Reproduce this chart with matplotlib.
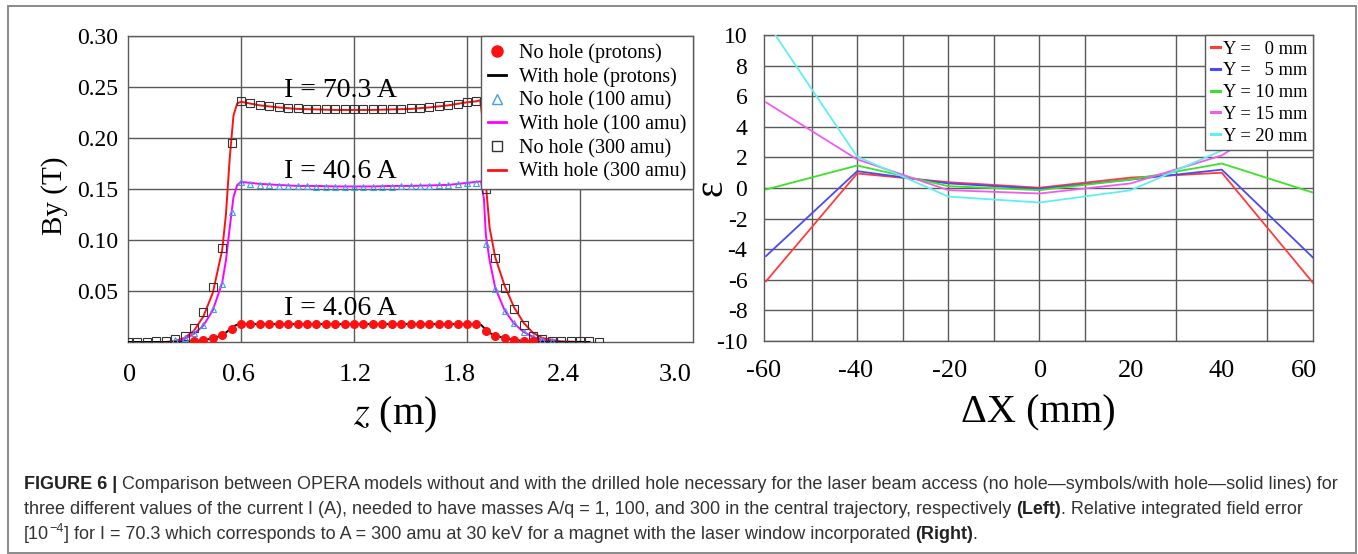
import numpy as np
import matplotlib
matplotlib.use("Agg")
import matplotlib.pyplot as plt
from matplotlib.lines import Line2D
from matplotlib.patches import Rectangle
from matplotlib import font_manager

# ---------------- data: left panel (By vs z) ----------------
# markers: no hole (protons), I = 4.06 A
z_p_mark = [0.35, 0.40, 0.45, 0.50, 0.55, 0.60, 0.65, 0.70, 0.75, 0.80, 0.85, 0.90,
            0.95, 1.00, 1.05, 1.10, 1.15, 1.20, 1.25, 1.30, 1.35, 1.40, 1.45, 1.50,
            1.55, 1.60, 1.65, 1.70, 1.75, 1.80, 1.85, 1.90, 1.95, 2.00, 2.05, 2.10, 2.15]
by_p_mark = [0.001, 0.002, 0.004, 0.007, 0.013, 0.0175, 0.0175, 0.0175, 0.0175, 0.0175,
             0.0175, 0.0175, 0.0175, 0.0175, 0.0175, 0.0175, 0.0175, 0.0175, 0.0175,
             0.0175, 0.0175, 0.0175, 0.0175, 0.0175, 0.0175, 0.0175, 0.0175, 0.0175,
             0.0175, 0.0175, 0.0175, 0.011, 0.006, 0.004, 0.002, 0.001, 0.0005]
# line: with hole (protons)
z_p_line = [0.00, 0.30, 0.35, 0.40, 0.45, 0.50, 0.525, 0.55, 0.575, 0.60, 1.85, 1.875,
            1.90, 1.925, 1.95, 2.00, 2.05, 2.10, 2.20, 2.30, 2.45]
by_p_line = [0.0, 0.0, 0.0008, 0.0018, 0.0035, 0.0065, 0.0100, 0.0140, 0.0167, 0.0175,
             0.0175, 0.0168, 0.0120, 0.0085, 0.0062, 0.0037, 0.0020, 0.0010, 0.0003, 0.0, 0.0]

# markers: no hole (100 amu), I = 40.6 A
z_100_mark = [0.25, 0.30, 0.35, 0.40, 0.45, 0.50, 0.55, 0.60, 0.65, 0.70, 0.75, 0.80,
              0.85, 0.90, 0.95, 1.00, 1.05, 1.10, 1.15, 1.20, 1.25, 1.30, 1.35, 1.40,
              1.45, 1.50, 1.55, 1.60, 1.65, 1.70, 1.75, 1.80, 1.85, 1.90, 1.95, 2.00,
              2.05, 2.10, 2.15, 2.20, 2.25]
by_100_mark = [0.002, 0.004, 0.009, 0.017, 0.032, 0.057, 0.127, 0.157, 0.155, 0.154,
               0.154, 0.153, 0.153, 0.153, 0.153, 0.152, 0.152, 0.152, 0.152, 0.152,
               0.152, 0.152, 0.152, 0.152, 0.153, 0.153, 0.153, 0.153, 0.154, 0.154,
               0.155, 0.156, 0.156, 0.096, 0.052, 0.030, 0.019, 0.010, 0.005, 0.002, 0.001]
# line: with hole (100 amu)
z_100_line = [0.00, 0.25, 0.30, 0.35, 0.40, 0.45, 0.50, 0.52, 0.54, 0.56, 0.58, 0.60,
              0.70, 0.80, 0.90, 1.00, 1.10, 1.20, 1.30, 1.40, 1.50, 1.60, 1.70, 1.80,
              1.85, 1.875, 1.89, 1.90, 1.92, 1.95, 2.00, 2.05, 2.10, 2.15, 2.20, 2.30, 2.40]
by_100_line = [0.0, 0.0, 0.003, 0.008, 0.016, 0.031, 0.058, 0.080, 0.112, 0.142, 0.154,
               0.157, 0.155, 0.154, 0.153, 0.153, 0.1525, 0.1525, 0.1525, 0.153, 0.153,
               0.1535, 0.154, 0.156, 0.157, 0.1575, 0.140, 0.105, 0.080, 0.053, 0.031,
               0.018, 0.010, 0.005, 0.002, 0.0003, 0.0]

# markers: no hole (300 amu), I = 70.3 A
z_300_mark = [0.00, 0.05, 0.10, 0.15, 0.20, 0.25, 0.30, 0.35, 0.40, 0.45, 0.50, 0.55,
              0.60, 0.65, 0.70, 0.75, 0.80, 0.85, 0.90, 0.95, 1.00, 1.05, 1.10, 1.15,
              1.20, 1.25, 1.30, 1.35, 1.40, 1.45, 1.50, 1.55, 1.60, 1.65, 1.70, 1.75,
              1.80, 1.85, 1.90, 1.95, 2.00, 2.05, 2.10, 2.15, 2.20, 2.25, 2.30, 2.35,
              2.40, 2.45, 2.50]
by_300_mark = [0.000, 0.000, 0.000, 0.001, 0.001, 0.003, 0.006, 0.014, 0.029, 0.054,
               0.092, 0.195, 0.236, 0.234, 0.232, 0.231, 0.230, 0.229, 0.229, 0.228,
               0.228, 0.228, 0.228, 0.228, 0.228, 0.228, 0.228, 0.228, 0.228, 0.228,
               0.229, 0.229, 0.230, 0.231, 0.232, 0.233, 0.235, 0.236, 0.150, 0.082,
               0.053, 0.032, 0.017, 0.006, 0.003, 0.001, 0.001, 0.001, 0.001, 0.001, 0.000]
# line: with hole (300 amu)
z_300_line = [0.00, 0.20, 0.25, 0.30, 0.35, 0.40, 0.45, 0.50, 0.52, 0.54, 0.56, 0.58,
              0.60, 0.70, 0.80, 0.90, 1.00, 1.10, 1.20, 1.30, 1.40, 1.50, 1.60, 1.70,
              1.80, 1.85, 1.87, 1.885, 1.90, 1.92, 1.95, 2.00, 2.05, 2.10, 2.15, 2.20,
              2.30, 2.45]
by_300_line = [0.0, 0.0, 0.001, 0.004, 0.011, 0.025, 0.048, 0.090, 0.125, 0.180, 0.222,
               0.234, 0.2355, 0.232, 0.230, 0.2285, 0.228, 0.2275, 0.2275, 0.2275, 0.228,
               0.2285, 0.230, 0.232, 0.235, 0.236, 0.237, 0.215, 0.155, 0.112, 0.083,
               0.055, 0.034, 0.019, 0.009, 0.004, 0.0005, 0.0]

left_legend = ["No hole (protons)", "With hole (protons)", "No hole (100 amu)",
               "With hole (100 amu)", "No hole (300 amu)", "With hole (300 amu)"]
current_labels = ["I = 70.3 A", "I = 40.6 A", "I = 4.06 A"]
current_pos = [(1.13, 0.247), (1.13, 0.167), (1.13, 0.0333)]
left_xticks = [0.0, 0.6, 1.2, 1.8, 2.4, 3.0]
left_xticklabels = ["0", "0.6", "1.2", "1.8", "2.4", "3.0"]
left_xgrid = [0.6, 1.2, 1.8, 2.4]
left_yticks = [0.05, 0.10, 0.15, 0.20, 0.25, 0.30]
left_yticklabels = ["0.05", "0.10", "0.15", "0.20", "0.25", "0.30"]

# ---------------- data: right panel (epsilon vs dX) ----------------
dx = [-60, -40, -20, 0, 20, 40, 60]
eps_y0 = [-6.1, 0.95, 0.38, 0.02, 0.68, 1.00, -6.2]
eps_y5 = [-4.45, 1.10, 0.30, -0.05, 0.55, 1.20, -4.55]
eps_y10 = [-0.10, 1.47, 0.12, -0.14, 0.55, 1.60, -0.30]
eps_y15 = [5.6, 1.87, -0.14, -0.36, 0.30, 2.13, 5.9]
eps_y20 = [10.9, 2.05, -0.56, -0.95, -0.15, 2.45, 10.4]
right_series = [eps_y0, eps_y5, eps_y10, eps_y15, eps_y20]
right_legend = ["Y =   0 mm", "Y =   5 mm", "Y = 10 mm", "Y = 15 mm", "Y = 20 mm"]
right_colors = ["#ff3b3b", "#4a4af0", "#3ee02a", "#f05cf0", "#5ef0f0"]
right_xticks = [-60, -40, -20, 0, 20, 40, 60]
right_xgrid = [-50, -40, -30, -20, -10, 0, 10, 20, 30, 40, 50]
right_yticks = [-10, -8, -6, -4, -2, 0, 2, 4, 6, 8, 10]

# ---------------- figure ----------------
W, H = 1358, 554
plt.rcParams["font.family"] = ["Liberation Serif", "DejaVu Serif"]
plt.rcParams["mathtext.fontset"] = "stix"
plt.rcParams["axes.unicode_minus"] = False
fig = plt.figure(figsize=(W / 100, H / 100), dpi=100)
fig.patch.set_facecolor("white")


def px_rect(x0, y0, x1, y1):
    return [x0 / W, 1 - y1 / H, (x1 - x0) / W, (y1 - y0) / H]


GRID = "#5a5a5a"

# frame around whole figure
fig.add_artist(Rectangle((8 / W, 1 - 553 / H), (1356 - 8) / W, (553 - 6) / H,
                         transform=fig.transFigure, fill=False, edgecolor="#8a8a8a",
                         linewidth=1.4))

# ---------- left axes ----------
L0, L1 = 128, 693
axL = fig.add_axes(px_rect(L0, 36, L1, 342))
axL.set_xlim(0, 3.0)
axL.set_ylim(0, 0.30)
# grid at the tick values; printed labels sit slightly shifted, as in the original
px_per_z = (L1 - L0) / 3.0
label_shift_px = [2, -3, 1, -8, -17, -18]
axL.set_xticks(left_xgrid, minor=True)
axL.set_xticks([t + s / px_per_z for t, s in zip(left_xticks, label_shift_px)])
axL.set_xticklabels(left_xticklabels, fontsize=19)
axL.set_yticks(left_yticks)
axL.set_yticklabels(left_yticklabels, fontsize=17)
axL.tick_params(axis="both", which="both", length=0)
axL.tick_params(axis="x", pad=16)
axL.tick_params(axis="y", pad=7)
axL.xaxis.grid(True, which="minor", color=GRID, linewidth=1.0)
axL.xaxis.grid(False, which="major")
axL.yaxis.grid(True, color=GRID, linewidth=1.0)
axL.set_axisbelow(True)
for s in axL.spines.values():
    s.set_color(GRID)
    s.set_linewidth(1.0)

axL.plot(z_300_line, by_300_line, color="#ff1010", lw=1.4, zorder=3)
axL.plot(z_100_line, by_100_line, color="#ff00ff", lw=1.4, zorder=3)
axL.plot(z_p_line, by_p_line, color="black", lw=1.4, zorder=3)
axL.plot(z_300_mark, by_300_mark, ls="none", marker="s", ms=5.2, mfc="none",
         mec="#333333", mew=0.8, zorder=4)
axL.plot(z_100_mark, by_100_mark, ls="none", marker="^", ms=5.0, mfc="none",
         mec="#3d9ff0", mew=0.8, zorder=4)
axL.plot(z_p_mark, by_p_mark, ls="none", marker="o", ms=5.5, mfc="#ff1010",
         mec="#ff1010", zorder=5)

for lab, (xx, yy) in zip(current_labels, current_pos):
    axL.text(xx, yy, lab, fontsize=20, ha="center", va="center", zorder=6)

axL.set_xlabel("$z$ (m)", fontsize=29, va="center")
axL.xaxis.set_label_coords((395 - L0) / (L1 - L0), (342 - 415) / 306)
axL.set_ylabel("By (T)", fontsize=21, va="center")
axL.yaxis.set_label_coords((55 - L0) / (L1 - L0), (342 - 196) / 306)

hL = [Line2D([], [], ls="none", marker="o", ms=8, mfc="#ff1010", mec="#ff1010"),
      Line2D([], [], color="black", lw=2),
      Line2D([], [], ls="none", marker="^", ms=7, mfc="none", mec="#3d9ff0", mew=1.0),
      Line2D([], [], color="#ff00ff", lw=2),
      Line2D([], [], ls="none", marker="s", ms=7, mfc="none", mec="#333333", mew=1.0),
      Line2D([], [], color="#ff1010", lw=2)]
legL = axL.legend(hL, left_legend, loc="upper right", bbox_to_anchor=(1.0, 1.0),
                  borderaxespad=0.0, fontsize=14.5, frameon=True, fancybox=False,
                  framealpha=1.0, edgecolor=GRID, handlelength=0.9,
                  handletextpad=0.6, labelspacing=0.22, borderpad=0.35)
legL.get_frame().set_linewidth(1.0)
legL.set_zorder(10)

# ---------- right axes ----------
R0, R1 = 764, 1313
axR = fig.add_axes(px_rect(R0, 35, R1, 341))
axR.set_xlim(-60, 60)
axR.set_ylim(-10, 10)
px_per_mm = (R1 - R0) / 120.0
r_shift_px = [-2, -2, 1, 1, 0, 0, -9]
axR.set_xticks(right_xgrid, minor=True)
axR.set_xticks([t + s / px_per_mm for t, s in zip(right_xticks, r_shift_px)])
axR.set_xticklabels([str(v) for v in right_xticks], fontsize=19)
axR.set_yticks(right_yticks)
axR.set_yticklabels([str(v) for v in right_yticks], fontsize=17)
axR.tick_params(axis="both", which="both", length=0)
axR.tick_params(axis="x", pad=14)
axR.tick_params(axis="y", pad=12)
axR.xaxis.grid(True, which="minor", color=GRID, linewidth=1.0)
axR.xaxis.grid(False, which="major")
axR.yaxis.grid(True, color=GRID, linewidth=1.0)
axR.set_axisbelow(True)
for s in axR.spines.values():
    s.set_color(GRID)
    s.set_linewidth(1.0)

for ys, col in zip(right_series, right_colors):
    axR.plot(dx, ys, color=col, lw=1.3, zorder=3)

axR.set_xlabel("ΔX (mm)", fontsize=29, va="center")
axR.xaxis.set_label_coords(0.5, (341 - 413) / 306)
axR.set_ylabel("ε", fontsize=28, va="center")
axR.yaxis.set_label_coords((712 - R0) / (R1 - R0), (341 - 188) / 306)

hR = [Line2D([], [], color=c, lw=2.2) for c in right_colors]
legR = axR.legend(hR, right_legend, loc="upper right", bbox_to_anchor=(1.0, 1.0),
                  borderaxespad=0.0, fontsize=13.3, frameon=True, fancybox=False,
                  framealpha=1.0, edgecolor=GRID, handlelength=0.5,
                  handletextpad=0.15, labelspacing=0.26, borderpad=0.3)
legR.get_frame().set_linewidth(1.0)
legR.set_zorder(10)

# ---------- caption ----------
cap_family = "Liberation Sans"
try:
    font_manager.findfont("Liberation Sans Narrow", fallback_to_default=False)
    cap_family = "Liberation Sans Narrow"
except Exception:
    pass

renderer = fig.canvas.get_renderer()


def text_width(s, size, weight="normal"):
    t = fig.text(0, 0, s, fontsize=size, family=cap_family, fontweight=weight)
    w = t.get_window_extent(renderer).width
    t.remove()
    return w


cap_lines = [
    [("FIGURE 6 |", "bold", False, False),
     ("Comparison between OPERA models without and with the drilled hole necessary "
      "for the laser beam access (no hole\u2014symbols/with hole\u2014solid lines) for",
      "normal", True, False)],
    [("three different values of the current I (A), needed to have masses A/q = 1, 100, "
      "and 300 in the central trajectory, respectively", "normal", False, False),
     ("(Left)", "bold", True, False),
     (". Relative integrated field error", "normal", False, False)],
    [("[10", "normal", False, False), ("\u22124", "normal", False, True),
     ("] for I = 70.3 which corresponds to A = 300 amu at 30 keV for a magnet with the "
      "laser window incorporated", "normal", False, False),
     ("(Right)", "bold", True, False), (".", "normal", False, False)],
]

x_start = 24
target_end = 1341
base = 10.0
sp = text_width("a a", base) - text_width("aa", base)
w0 = sum(text_width(s, base, wt) for s, wt, g, su in cap_lines[0]) + sp
cap_size = base * (target_end - x_start) / w0

baselines = [489, 514, 539]
for segs, yb in zip(cap_lines, baselines):
    x = x_start
    space_w = (text_width("a a", cap_size) - text_width("aa", cap_size))
    for s, wt, gap, sup in segs:
        if gap:
            x += space_w
        size = cap_size * (0.7 if sup else 1.0)
        yy = yb - (cap_size * 0.55 if sup else 0)
        t = fig.text(x / W, 1 - yy / H, s, fontsize=size, family=cap_family,
                     fontweight=wt, ha="left", va="baseline",
                     color="#222222" if wt == "bold" else "#333333")
        x += t.get_window_extent(renderer).width

fig.savefig("out.png", dpi=100, facecolor="white")
